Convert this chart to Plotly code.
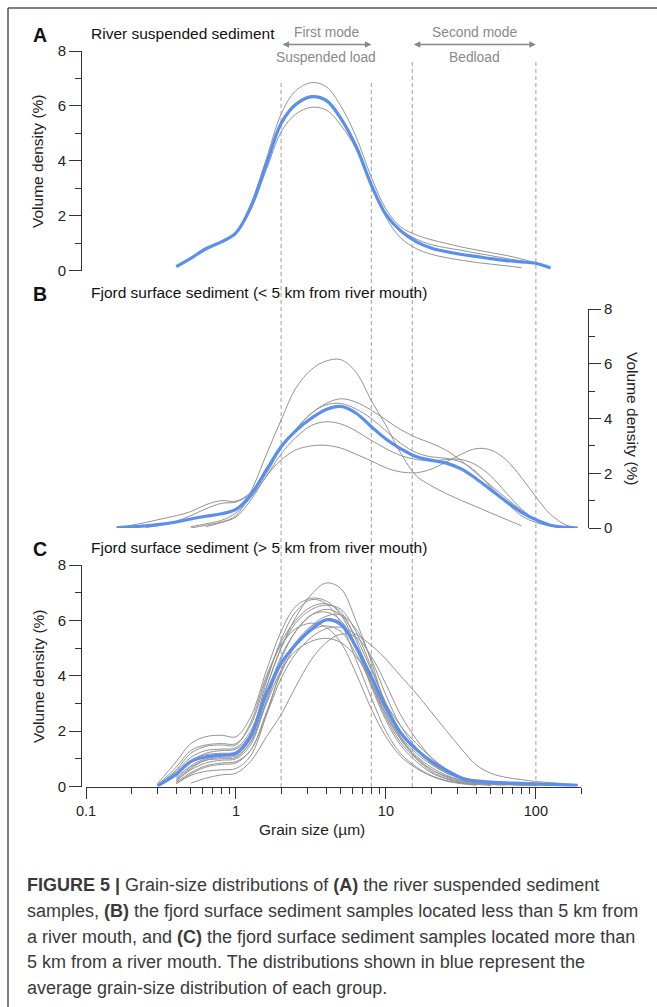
import math
import plotly.graph_objects as go

N = None
# common grain-size grid (µm)
GRID = [0.16, 0.2, 0.25, 0.3, 0.4, 0.5, 0.63, 0.8, 1.0, 1.25, 1.6, 2.0, 2.5, 3.2, 4.0, 5.0,
        6.3, 8.0, 10, 12.5, 16, 20, 25, 32, 40, 50, 63, 80, 100, 125, 160, 190]

# Panel A: river suspended sediment (volume density %)
A_AVG = [N, N, N, N, 0.15, 0.45, 0.8, 1.05, 1.38, 2.3, 3.9, 5.36, 6.05, 6.34, 6.2, 5.55, 4.55, 3.12,
         2.05, 1.46, 1.05, 0.83, 0.7, 0.59, 0.52, 0.44, 0.37, 0.32, 0.27, 0.1]
A_SAMPLES = [
    [N, N, N, N, 0.15, 0.45, 0.8, 1.05, 1.4, 2.4, 4.1, 5.7, 6.55, 6.85, 6.7, 6.0, 4.9, 3.4, 2.25, 1.6,
     1.3, 1.13, 1.0, 0.86, 0.76, 0.66, 0.56, 0.43, 0.28],
    [N, N, N, N, 0.15, 0.45, 0.8, 1.05, 1.35, 2.2, 3.7, 5.05, 5.7, 5.95, 5.85, 5.3, 4.45, 3.1, 1.95, 1.2,
     0.8, 0.6, 0.48, 0.38, 0.3, 0.24, 0.18, 0.11],
    [N, N, N, N, 0.15, 0.45, 0.8, 1.05, 1.38, 2.3, 3.9, 5.3, 6.0, 6.3, 6.15, 5.5, 4.5, 3.15, 2.1, 1.5,
     1.15, 0.95, 0.84, 0.74, 0.64, 0.55, 0.45, 0.35, 0.25, 0.12],
]

# Panel B: fjord surface sediment (< 5 km from river mouth)
B_AVG = [0.01, 0.04, 0.08, 0.12, 0.22, 0.33, 0.43, 0.52, 0.68, 1.2, 2.12, 2.97, 3.55, 4.02, 4.33, 4.44,
         4.2, 3.7, 3.25, 2.9, 2.6, 2.48, 2.38, 2.15, 1.8, 1.4, 0.98, 0.58, 0.3, 0.1, 0.02, 0.0]
B_SAMPLES = [
    [N, N, N, N, N, 0.0, 0.1, 0.22, 0.45, 1.3, 2.7, 3.94, 5.1, 5.8, 6.1, 6.15, 5.7, 4.65, 3.75, 2.75,
     1.9, 1.55, 1.27, 1.0, 0.78, 0.55, 0.32, 0.08],
    [0.01, 0.1, 0.2, 0.3, 0.45, 0.6, 0.85, 1.0, 0.98, 1.3, 2.2, 3.0, 3.6, 4.2, 4.55, 4.72, 4.6, 4.3,
     3.95, 3.6, 3.3, 3.1, 2.85, 2.45, 2.0, 1.55, 1.1, 0.65, 0.3, 0.12, 0.03],
    [N, N, 0.02, 0.08, 0.25, 0.45, 0.7, 0.9, 0.95, 1.25, 2.0, 2.9, 3.6, 4.2, 4.5, 4.55, 4.35, 4.0, 3.55,
     3.1, 2.75, 2.6, 2.55, 2.4, 2.05, 1.5, 0.95, 0.45, 0.2, 0.08, 0.02],
    [N, N, N, N, N, N, 0.05, 0.2, 0.4, 1.0, 1.9, 2.48, 2.85, 3.0, 3.02, 2.92, 2.7, 2.45, 2.2, 2.05, 2.02,
     2.15, 2.4, 2.7, 2.9, 2.85, 2.5, 1.85, 1.14, 0.5, 0.1, 0.0],
    [N, N, N, N, N, 0.05, 0.15, 0.28, 0.55, 1.1, 1.9, 2.7, 3.3, 3.75, 3.88, 3.8, 3.55, 3.2, 2.9, 2.65,
     2.5, 2.45, 2.5, 2.5, 2.3, 1.9, 1.3, 0.7, 0.3, 0.1, 0.02],
]

# Panel C: fjord surface sediment (> 5 km from river mouth)
C_AVG = [N, N, N, 0.02, 0.45, 0.9, 1.07, 1.13, 1.2, 1.8, 3.36, 4.45, 5.12, 5.68, 6.02, 5.87, 5.05, 3.96,
         2.85, 1.95, 1.33, 0.92, 0.6, 0.3, 0.2, 0.16, 0.13, 0.11, 0.1, 0.08, 0.05, 0.03]
C_SAMPLES = [
    [N, N, N, 0.0, 0.55, 1.05, 1.3, 1.35, 1.4, 2.0, 3.6, 5.0, 6.1, 6.95, 7.35, 7.15, 6.0, 4.5, 2.9, 1.8,
     1.0, 0.55, 0.3, 0.15, 0.08, 0.04],
    [N, N, N, 0.1, 0.9, 1.55, 1.8, 1.85, 1.8, 2.5, 4.2, 5.6, 6.5, 6.8, 6.7, 6.2, 5.1, 3.7, 2.5, 1.6, 1.0,
     0.62, 0.38, 0.22, 0.14, 0.1, 0.08, 0.06, 0.05],
    [N, N, N, 0.05, 0.7, 1.3, 1.5, 1.55, 1.55, 2.2, 3.9, 5.2, 6.0, 6.5, 6.6, 6.3, 5.3, 3.9, 2.7, 1.8, 1.2,
     0.8, 0.5, 0.3, 0.2, 0.15, 0.1, 0.08, 0.06],
    [N, N, N, N, 0.35, 0.9, 1.2, 1.3, 1.35, 1.9, 3.6, 5.0, 5.9, 6.4, 6.55, 6.4, 5.6, 4.3, 3.0, 2.0, 1.3,
     0.85, 0.5, 0.28, 0.16, 0.1, 0.07, 0.05, 0.04],
    [N, N, N, N, 0.3, 0.75, 1.0, 1.1, 1.15, 1.7, 3.3, 4.7, 5.6, 6.2, 6.4, 6.2, 5.4, 4.2, 3.0, 2.0, 1.3,
     0.85, 0.55, 0.33, 0.2, 0.13, 0.1, 0.08, 0.06, 0.05, 0.03],
    [N, N, N, N, 0.2, 0.6, 0.85, 0.95, 1.0, 1.5, 3.1, 4.6, 5.6, 6.2, 6.3, 6.0, 5.0, 3.6, 2.4, 1.5, 0.9,
     0.5, 0.28, 0.14, 0.07],
    [N, N, N, N, 0.15, 0.5, 0.75, 0.85, 0.9, 1.3, 2.7, 4.1, 5.1, 5.8, 6.15, 6.2, 5.7, 4.6, 3.3, 2.2, 1.4,
     0.9, 0.55, 0.3, 0.17, 0.1, 0.07, 0.05, 0.05, 0.05, 0.04],
    [N, N, N, N, 0.1, 0.4, 0.55, 0.6, 0.65, 1.1, 2.6, 4.2, 5.2, 5.8, 6.0, 5.8, 5.0, 3.8, 2.6, 1.7, 1.05,
     0.62, 0.35, 0.18, 0.1, 0.06],
    [N, N, N, 0.05, 0.6, 1.2, 1.45, 1.5, 1.5, 2.3, 4.0, 5.1, 5.7, 5.9, 5.75, 5.2, 4.1, 2.8, 1.8, 1.1,
     0.65, 0.38, 0.2, 0.1, 0.05],
    [N, N, N, N, N, 0.12, 0.3, 0.42, 0.48, 0.9, 1.8, 2.6, 3.6, 4.6, 5.2, 5.5, 5.4, 4.7, 3.7, 2.6, 1.7,
     1.05, 0.6, 0.3, 0.15, 0.08],
    [N, N, N, N, 0.1, 0.45, 0.7, 0.8, 0.85, 1.3, 2.6, 3.9, 4.8, 5.4, 5.7, 5.75, 5.5, 5.1, 4.6, 4.0, 3.35,
     2.7, 2.05, 1.35, 0.78, 0.48, 0.33, 0.25, 0.18, 0.14, 0.1, 0.08],
    [N, N, N, N, 0.2, 0.65, 0.95, 1.05, 1.1, 1.6, 3.0, 4.2, 4.9, 5.25, 5.35, 5.2, 4.7, 3.9, 3.0, 2.2,
     1.55, 1.05, 0.65, 0.35, 0.2, 0.12, 0.08, 0.06, 0.05],
    [N, N, N, 0.0, 0.4, 0.95, 1.15, 1.2, 1.25, 1.9, 3.8, 5.3, 6.3, 6.75, 6.6, 5.9, 4.6, 3.2, 2.0, 1.2,
     0.7, 0.4, 0.22, 0.12, 0.06],
    [N, N, N, N, 0.25, 0.7, 0.95, 1.0, 1.05, 1.6, 3.1, 4.4, 5.2, 5.65, 5.8, 5.6, 4.8, 3.7, 2.6, 1.75,
     1.1, 0.7, 0.42, 0.22, 0.12, 0.07, 0.05],
]

MODE_BOUNDS = [2, 8, 15, 100]          # µm, dashed guide lines
FIRST_MODE = (2, 8)
SECOND_MODE = (15, 100)
X_TICKS = [0.1, 1, 10, 100]
X_TICK_TEXT = ["0.1", "1", "10", "100"]
X_MINOR = [0.2, 0.3, 0.4, 0.5, 0.6, 0.7, 0.8, 0.9, 2, 3, 4, 5, 6, 7, 8, 9,
           20, 30, 40, 50, 60, 70, 80, 90, 200]

W, H = 657, 1007
FONT = "Liberation Sans, Arial, sans-serif"
GRAY = "#939393"
BLUE = "#5a8ff2"
AX = "#333333"


def px_x(p):
    return p / W


def px_y(p):
    return 1 - p / H


fig = go.Figure()


def xy(vals):
    pts = [(g, v) for g, v in zip(GRID, vals) if v is not None]
    return [p[0] for p in pts], [p[1] for p in pts]


# dashed guide lines (overlay axis 'y', drawn first)
for b in MODE_BOUNDS:
    top = 0.975 if b in SECOND_MODE else 0.95
    fig.add_trace(go.Scatter(x=[b, b], y=[0, top], mode="lines", xaxis="x", yaxis="y",
                             line=dict(color="#b0b0b0", width=1.2, dash="4px,3px"),
                             hoverinfo="skip"))

for ax_name, samples, avg in (("y2", A_SAMPLES, A_AVG), ("y3", B_SAMPLES, B_AVG),
                              ("y4", C_SAMPLES, C_AVG)):
    for s in samples:
        x, y = xy(s)
        fig.add_trace(go.Scatter(x=x, y=y, mode="lines", xaxis="x", yaxis=ax_name,
                                 line=dict(color=GRAY, width=1, shape="spline", smoothing=1.0)))
    x, y = xy(avg)
    fig.add_trace(go.Scatter(x=x, y=y, mode="lines", xaxis="x", yaxis=ax_name,
                             line=dict(color=BLUE, width=3.2, shape="spline", smoothing=1.0)))

yax_common = dict(range=[0, 8], dtick=2, tick0=0, showline=True, linecolor=AX, linewidth=1,
                  ticks="outside", ticklen=12, tickwidth=1, tickcolor=AX, tickangle=0,
                  minor=dict(dtick=1, ticks="outside", ticklen=6, tickcolor=AX),
                  showgrid=False, zeroline=False, automargin=False,
                  tickfont=dict(family=FONT, size=15, color="#222"), fixedrange=True)

fig.update_layout(
    width=W, height=H, margin=dict(l=0, r=0, t=0, b=0, pad=0, autoexpand=False),
    paper_bgcolor="white", plot_bgcolor="rgba(0,0,0,0)", showlegend=False,
    font=dict(family=FONT, color="#222"),
    xaxis=dict(type="log", range=[-1, math.log10(200)], domain=[px_x(86), px_x(581)],
               anchor="y4", showline=True, linecolor=AX, linewidth=1, automargin=False,
               ticks="outside", ticklen=11, tickcolor=AX, tickangle=0,
               tickvals=X_TICKS, ticktext=X_TICK_TEXT,
               minor=dict(tickvals=X_MINOR, ticks="outside", ticklen=6, tickcolor=AX),
               showgrid=False, zeroline=False,
               tickfont=dict(family=FONT, size=14.5, color="#222")),
    yaxis=dict(domain=[px_y(787), px_y(43)], range=[0, 1], visible=False, anchor="x",
               showgrid=False, zeroline=False),
    yaxis2=dict(domain=[px_y(270.7), px_y(51)], anchor="free", position=px_x(81), **yax_common),
    yaxis3=dict(domain=[px_y(528), px_y(309)], anchor="free", position=px_x(588), side="right",
                **yax_common),
    yaxis4=dict(domain=[px_y(786.5), px_y(565)], anchor="free", position=px_x(81), **yax_common),
)

ann = []
# panel letters and titles
for letter, title, yc in (("A", "River suspended sediment", 33),
                          ("B", "Fjord surface sediment (< 5 km from river mouth)", 292),
                          ("C", "Fjord surface sediment (> 5 km from river mouth)", 547)):
    ann.append(dict(text=f"<b>{letter}</b>", x=px_x(30.5), y=px_y(yc + 2), xref="paper",
                    yref="paper", xanchor="left", yanchor="middle", showarrow=False,
                    font=dict(family=FONT, size=19.5, color="#111")))
    ann.append(dict(text=title, x=px_x(89), y=px_y(yc), xref="paper", yref="paper",
                    xanchor="left", yanchor="middle", showarrow=False,
                    font=dict(family=FONT, size=15.5, color="#111")))

# y-axis titles
for yc, xc, ang in ((161, 38, -90), (419, 632, 90), (676, 38, -90)):
    ann.append(dict(text="Volume density (%)", x=px_x(xc), y=px_y(yc), xref="paper", yref="paper",
                    xanchor="center", yanchor="middle", textangle=ang, showarrow=False,
                    font=dict(family=FONT, size=15.5, color="#222")))

ann.append(dict(text="Grain size (µm)", x=px_x(311.5), y=px_y(829), xref="paper", yref="paper",
                xanchor="center", yanchor="middle", showarrow=False,
                font=dict(family=FONT, size=15.5, color="#222")))

# mode arrows and labels
for (lo, hi), top_txt, bot_txt in ((FIRST_MODE, "First mode", "Suspended load"),
                                   (SECOND_MODE, "Second mode", "Bedload")):
    ann.append(dict(x=math.log10(hi), y=px_y(44.5), xref="x", yref="paper",
                    ax=math.log10(lo), ay=0, axref="x", ayref="pixel",
                    showarrow=True, arrowhead=2, arrowside="end+start", arrowsize=1,
                    arrowwidth=1.3, arrowcolor="#888", standoff=0, startstandoff=0, text=""))
    mid = (math.log10(lo) + math.log10(hi)) / 2
    ann.append(dict(text=top_txt, x=mid, y=px_y(32), xref="x", yref="paper",
                    xanchor="center", yanchor="middle", showarrow=False,
                    font=dict(family=FONT, size=13.8, color="#8a8a8a")))
    ann.append(dict(text=bot_txt, x=mid, y=px_y(57.5), xref="x", yref="paper",
                    xanchor="center", yanchor="middle", showarrow=False,
                    font=dict(family=FONT, size=13.8, color="#8a8a8a")))

# caption
CAPTION = [
    "<b>FIGURE 5 |</b> Grain-size distributions of <b>(A)</b> the river suspended sediment",
    "samples, <b>(B)</b> the fjord surface sediment samples located less than 5 km from",
    "a river mouth, and <b>(C)</b> the fjord surface sediment samples located more than",
    "5 km from a river mouth. The distributions shown in blue represent the",
    "average grain-size distribution of each group.",
]
for i, line in enumerate(CAPTION):
    ann.append(dict(text=line, x=px_x(25), y=px_y(885 + 25.8 * i), xref="paper", yref="paper",
                    xanchor="left", yanchor="middle", showarrow=False,
                    font=dict(family=FONT, size=18, color="#3a3a3a")))

fig.update_layout(annotations=ann)

# figure frame (top and left edges)
fig.add_shape(type="line", xref="paper", yref="paper", x0=px_x(8), x1=1, y0=px_y(8), y1=px_y(8),
              line=dict(color="#555", width=1.5))
fig.add_shape(type="line", xref="paper", yref="paper", x0=px_x(8), x1=px_x(8), y0=px_y(8), y1=0,
              line=dict(color="#555", width=1.5))

fig.write_html("out.html", config={"displayModeBar": False},
               post_script="document.body.style.margin='0';document.body.style.overflow='hidden';")
